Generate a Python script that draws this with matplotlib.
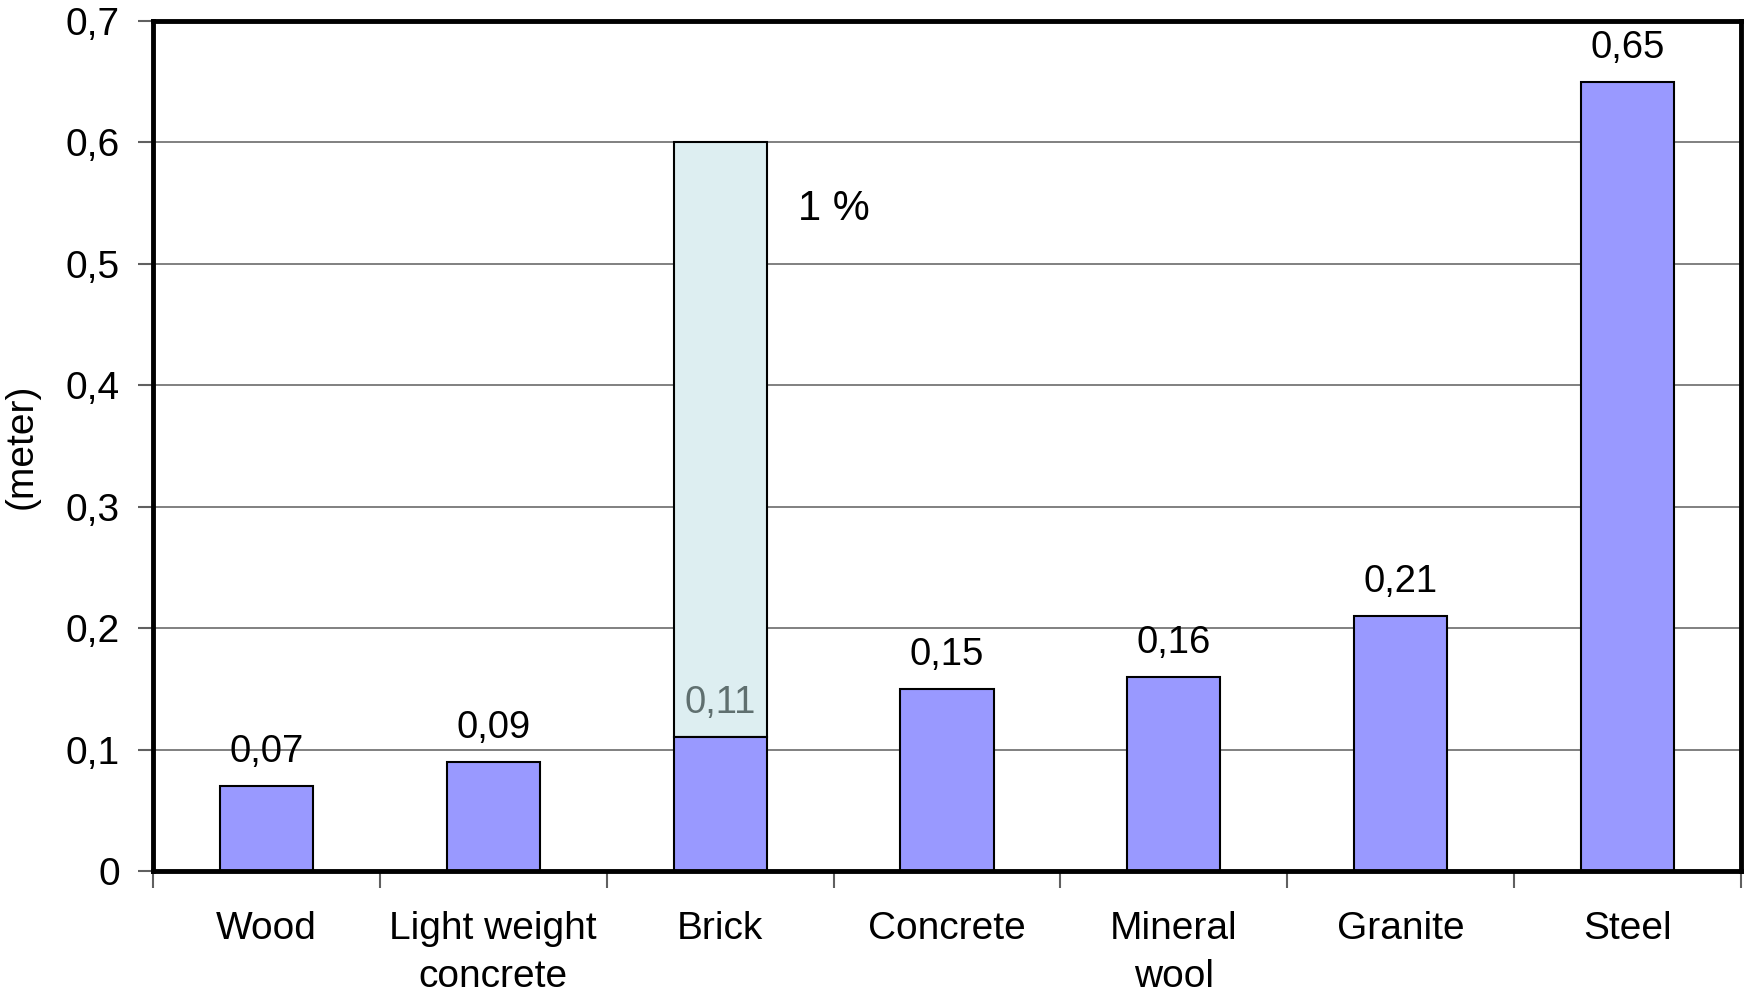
import matplotlib
matplotlib.use("Agg")
import matplotlib.pyplot as plt
from matplotlib.ticker import FuncFormatter, FixedLocator

plt.rcParams['font.family'] = ['Liberation Sans', 'DejaVu Sans']

categories = ["Wood", "Light weight\nconcrete", "Brick", "Concrete", "Mineral\nwool", "Granite", "Steel"]
values = [0.07, 0.09, 0.11, 0.15, 0.16, 0.21, 0.65]
value_labels = ["0,07", "0,09", "0,11", "0,15", "0,16", "0,21", "0,65"]
brick_range_top = 0.60
brick_index = 2
range_note = "1 %"
y_ticks = [0, 0.1, 0.2, 0.3, 0.4, 0.5, 0.6, 0.7]
y_label = "(meter)"

fig = plt.figure(figsize=(17.5, 9.97), dpi=100)
ax = fig.add_axes([153/1750, 1-871/997, (1741-153)/1750, (871-21)/997])

x = list(range(len(categories)))
bw = 0.41

# light range bar for brick
ax.bar(brick_index, brick_range_top - values[brick_index], bottom=values[brick_index], width=bw,
       color="#DDEEF1", edgecolor="black", linewidth=1.5, zorder=3)
ax.bar(x, values, width=bw, color="#9999FF", edgecolor="black", linewidth=1.5, zorder=4)

for i, (v, lab) in enumerate(zip(values, value_labels)):
    col = "#5F6F6F" if i == brick_index else "black"
    ax.annotate(lab, (i, v), xytext=(0, 11.5), textcoords="offset points",
                ha="center", va="bottom", fontsize=27.5, color=col, zorder=5)

ax.text(brick_index + 0.5, 0.545, range_note, ha="center", va="center", fontsize=30, color="black")

ax.set_xlim(-0.5, len(categories) - 0.5)
ax.set_ylim(0, 0.7)
ax.set_yticks(y_ticks)
ax.yaxis.set_major_formatter(FuncFormatter(lambda v, p: ("%g" % round(v, 2)).replace(".", ",")))
ax.yaxis.grid(True, color="#808080", linewidth=1.4, zorder=0)
ax.set_axisbelow(True)

ax.xaxis.set_major_locator(FixedLocator([i - 0.5 for i in range(len(categories) + 1)]))
ax.xaxis.set_major_formatter(FuncFormatter(lambda v, p: ""))
ax.xaxis.set_minor_locator(FixedLocator(x))
ax.set_xticklabels(categories, minor=True)
ax.tick_params(axis="x", which="major", direction="out", length=12, width=1.5, color="#606060")
ax.tick_params(axis="x", which="minor", length=0, pad=29, labelsize=28)
ax.tick_params(axis="y", which="major", direction="out", length=11, width=1.5, color="#606060",
               labelsize=28, pad=13)
for t in ax.get_xticklabels(minor=True):
    t.set_linespacing(1.42)
    t.set_va("top")

for s in ax.spines.values():
    s.set_linewidth(3.5)
    s.set_color("black")
    s.set_zorder(6)

ax.set_ylabel(y_label, fontsize=28)
ax.yaxis.set_label_coords(-0.0715, 0.5)

fig.savefig("out.png", dpi=100)
